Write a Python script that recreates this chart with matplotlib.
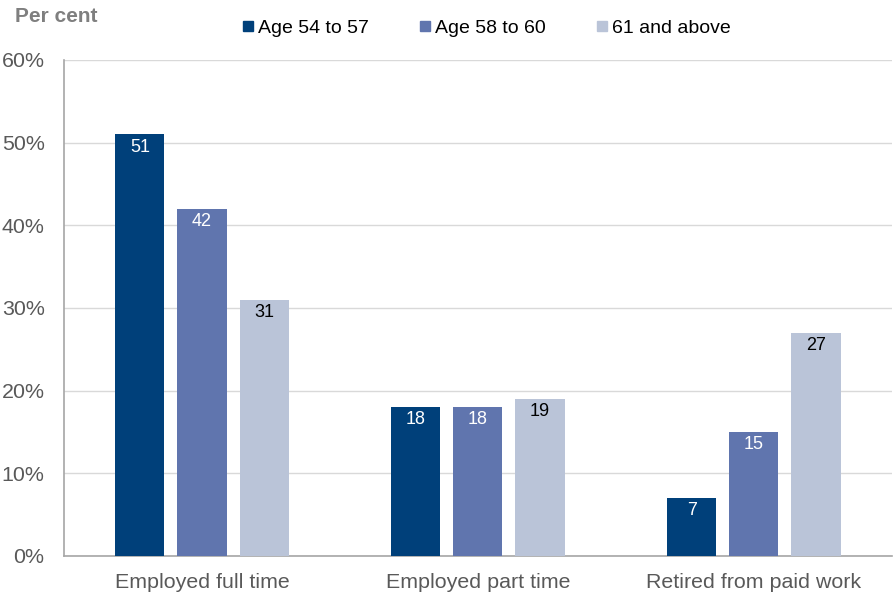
import numpy as np
import matplotlib.pyplot as plt
from matplotlib.lines import Line2D

plt.rcParams['font.family'] = ['Liberation Sans', 'DejaVu Sans']

# Aandeel per status en leeftijdsgroep (procent)
categories = ['Employed full time', 'Employed part time', 'Retired from paid work']
series_names = ['Age 54 to 57', 'Age 58 to 60', '61 and above']
age_54_57 = [51, 18, 7]
age_58_60 = [42, 18, 15]
age_61_up = [31, 19, 27]
yticks = [0, 10, 20, 30, 40, 50, 60]

colours = ['#00407A', '#6075AE', '#BAC4D8']
label_colours = ['white', 'white', 'black']
grey = '#595959'

fig = plt.figure(figsize=(8.93, 5.97), dpi=100)
ax = fig.add_axes([0.0717, 0.0687, 0.927, 0.8308])

x = np.arange(len(categories))
width = 0.178
step = 0.225
for i, (vals, col, lcol) in enumerate(zip([age_54_57, age_58_60, age_61_up], colours, label_colours)):
    pos = x + (i - 1) * step
    ax.bar(pos, vals, width=width, color=col, zorder=3)
    for p, v in zip(pos, vals):
        ax.annotate(str(v), (p, v), xytext=(0, -3), textcoords='offset points',
                    ha='center', va='top', fontsize=13, color=lcol, zorder=4)

ax.set_xlim(-0.5, 2.5)
ax.set_ylim(0, 60)
ax.set_yticks(yticks)
ax.set_yticklabels([f'{t}%' for t in yticks])
ax.set_xticks(x)
ax.set_xticklabels(categories)
ax.tick_params(axis='both', length=0, labelsize=15.4, colors=grey)
ax.tick_params(axis='x', pad=12)
ax.tick_params(axis='y', pad=14)
ax.grid(axis='y', color='#D9D9D9', linewidth=1, zorder=0)
for s in ['top', 'right']:
    ax.spines[s].set_visible(False)
for s in ['left', 'bottom']:
    ax.spines[s].set_color('#A6A6A6')
    ax.spines[s].set_linewidth(1.2)

# legenda met vierkantjes
handles = [Line2D([], [], marker='s', linestyle='', markersize=7.5, color=c) for c in colours]
fig.legend(handles, series_names, loc='center left', bbox_to_anchor=(0.272, 0.953),
           ncol=3, frameon=False, fontsize=14, handlelength=0.55, handletextpad=0.25,
           columnspacing=2.6, borderaxespad=0, borderpad=0)

fig.text(0.017, 0.972, 'Per cent', fontsize=15, fontweight='bold', color='#7F7F7F',
         ha='left', va='center')

plt.savefig('out.png', dpi=100)
